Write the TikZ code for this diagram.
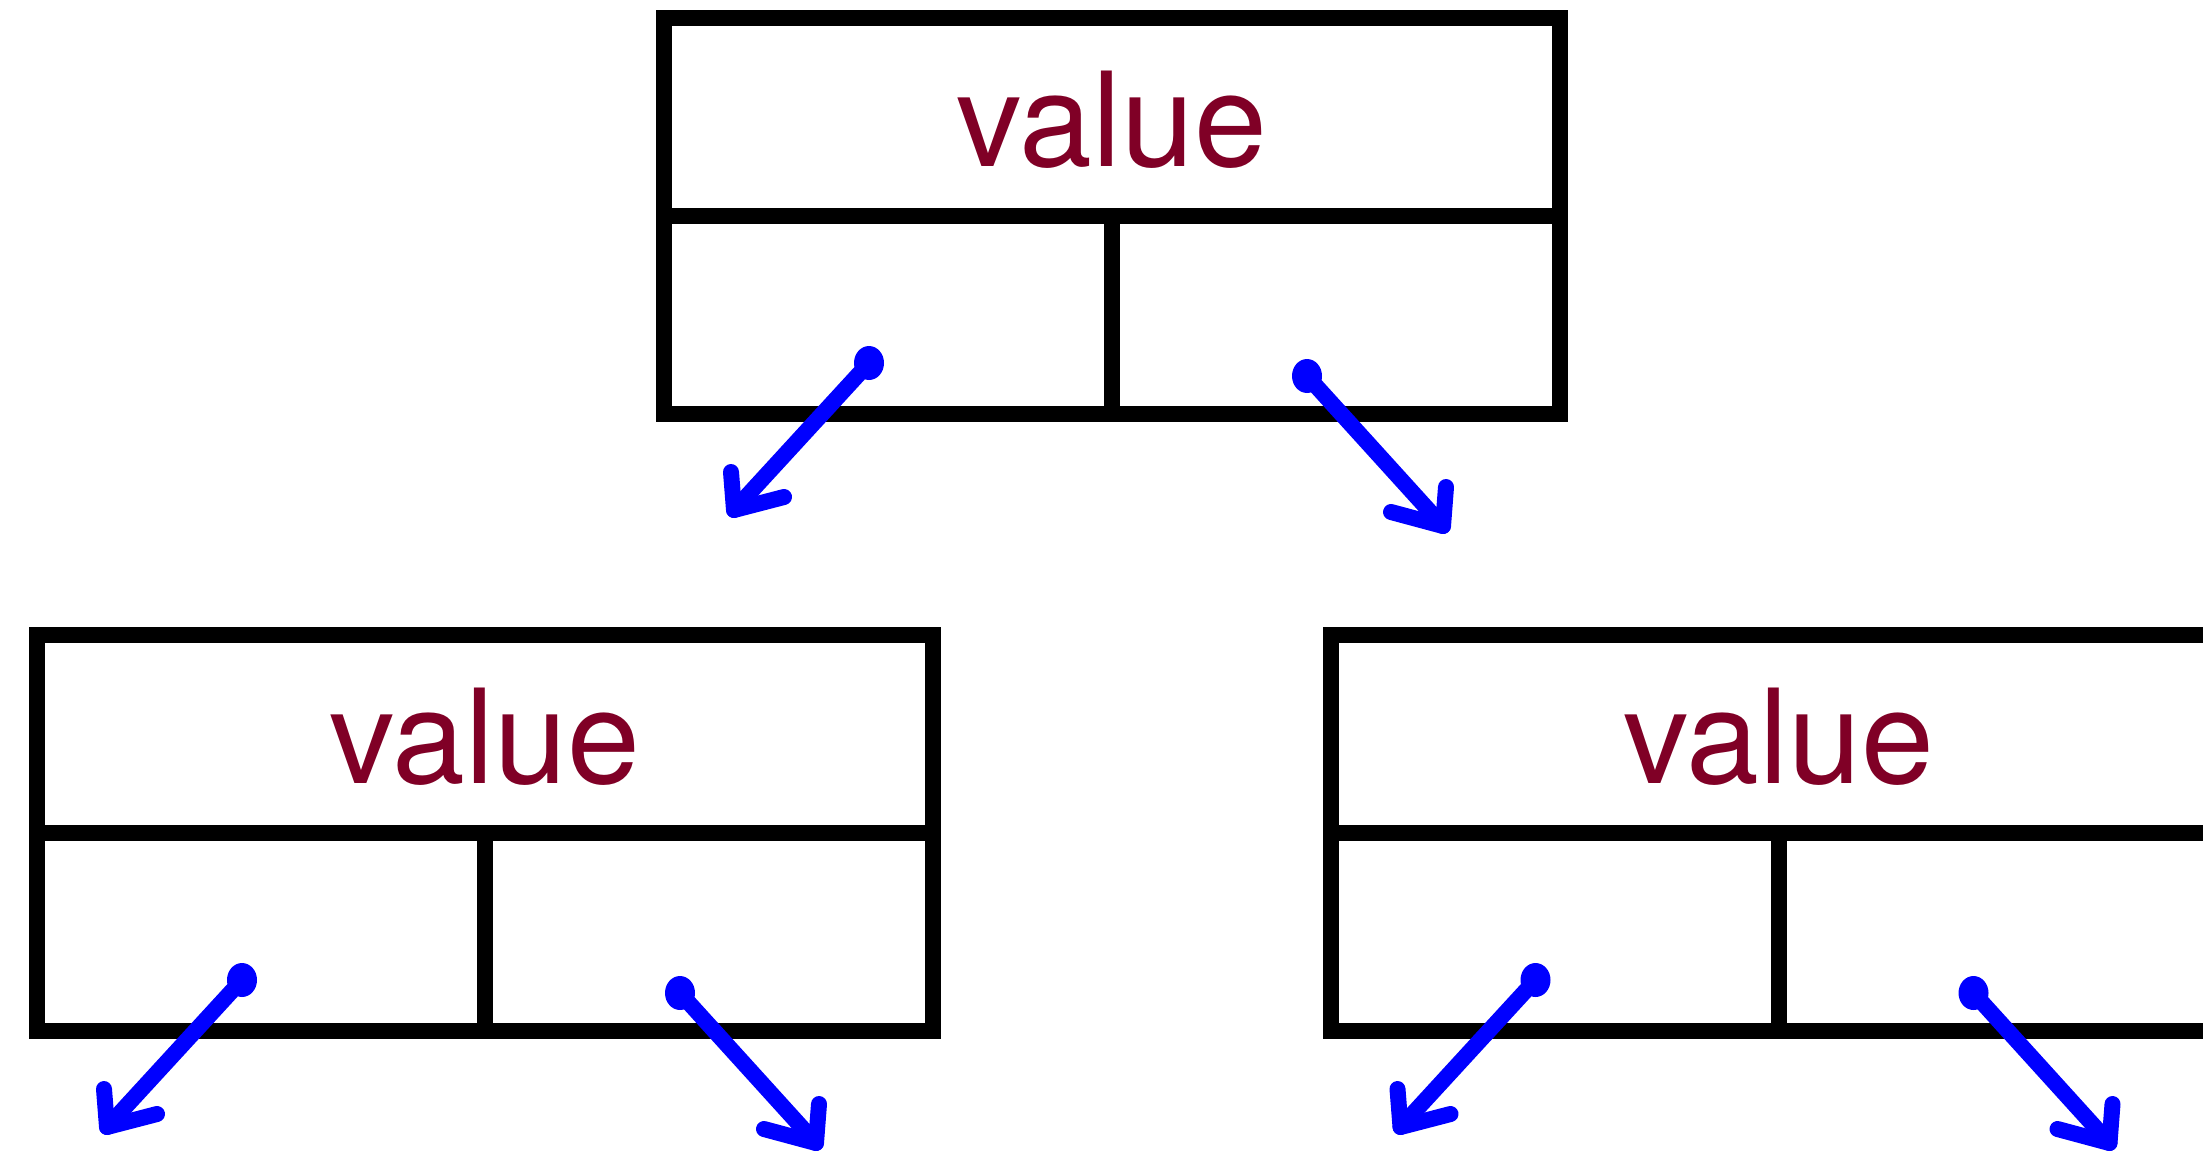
\documentclass[tikz,border=0pt]{standalone}
\usepackage{fontspec}
\setmainfont{TeX Gyre Heros}
\definecolor{valred}{RGB}{128,0,38}
\tikzset{
  boxline/.style={line width=16pt, line join=miter, line cap=rect, black},
  valtext/.style={text=valred, font=\fontsize{131}{140}\selectfont, anchor=base, inner sep=0pt},
  handarrow/.style={blue, line width=16pt, line cap=round, line join=round},
}
\newcommand\drawtreebox[3]{%
  \begin{scope}[shift={(#2,#3)}]
    \draw[boxline] (0,0) rectangle (896,396);
    \draw[boxline] (0,198) -- (896,198);
    \draw[boxline] (448,198) -- (448,396);
    \node[valtext] (#1-val) at (448,148) {value};
    \coordinate (#1-ls) at (205,345);
    \coordinate (#1-lt) at (70,492);
    \coordinate (#1-lw1) at (67,454);
    \coordinate (#1-lw2) at (120,479);
    \coordinate (#1-rs) at (643,358);
    \coordinate (#1-rt) at (779,508);
    \coordinate (#1-rw1) at (782,469);
    \coordinate (#1-rw2) at (727,494);
    \fill[blue] (#1-ls) ellipse [x radius=15pt, y radius=17pt];
    \fill[blue] (#1-rs) ellipse [x radius=15pt, y radius=17pt];
    \draw[handarrow] (#1-ls) -- (#1-lt);
    \draw[handarrow] (#1-lw1) -- (#1-lt) -- (#1-lw2);
    \draw[handarrow] (#1-rs) -- (#1-rt);
    \draw[handarrow] (#1-rw1) -- (#1-rt) -- (#1-rw2);
  \end{scope}%
}
\begin{document}
\begin{tikzpicture}[x=1pt, y=-1pt]
  \clip (0,0) rectangle (2203,1154);
  \fill[white] (0,0) rectangle (2203,1154);
  \drawtreebox{root}{664}{18}
  \drawtreebox{left}{37}{635}
  \drawtreebox{right}{1330.5}{635}
\end{tikzpicture}
\end{document}
